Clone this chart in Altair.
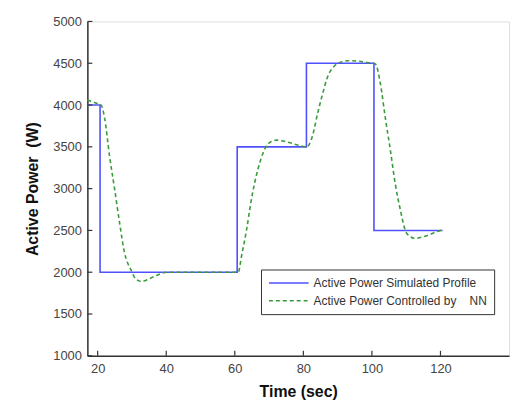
import altair as alt
import pandas as pd

S1 = "Active Power Simulated Profile"
S2 = "Active Power Controlled by\u00a0\u00a0\u00a0 NN"

blue_t = [17, 20.7, 20.7, 60.7, 60.7, 80.9, 80.9, 100.6, 100.6, 120.6]
blue_p = [4000, 4000, 2000, 2000, 3500, 3500, 4500, 4500, 2500, 2500]

green_t = [17, 19, 21, 22, 23.5, 25, 26.4, 27.8, 29.8, 31, 32.7, 34.5, 36.5, 40.4, 50, 61,
           62, 63.4, 64.8, 66.8, 68.2, 69.7, 72.1, 74, 76.4, 78.5, 81, 82.8, 84.1, 85.6, 87,
           89, 91.4, 93, 96, 98.6, 101, 102.5, 103.9, 105.4, 106.8, 108.3, 109.7, 111, 112.6,
           114.5, 116.5, 118.5, 120.6]
green_p = [4060, 4030, 4000, 3850, 3380, 2980, 2590, 2240, 2020, 1925, 1890, 1910, 1950, 2000, 2000, 2000,
           2200, 2500, 2860, 3240, 3420, 3535, 3580, 3570, 3545, 3520, 3500, 3650, 3890, 4130, 4330,
           4465, 4520, 4530, 4525, 4510, 4490, 4250, 3850, 3455, 3060, 2745, 2505, 2430, 2405,
           2420, 2445, 2480, 2510]

x_ticks = [20, 40, 60, 80, 100, 120]
y_ticks = [1000, 1500, 2000, 2500, 3000, 3500, 4000, 4500, 5000]

rows = []
for i, (t, p) in enumerate(zip(blue_t, blue_p)):
    rows.append({"t": t, "p": p, "series": S1, "i": i})
for i, (t, p) in enumerate(zip(green_t, green_p)):
    rows.append({"t": t, "p": p, "series": S2, "i": i})
df = pd.DataFrame(rows)

FONT = "Liberation Sans"
W, H = 425, 337

xscale = alt.Scale(domain=[17, 140], nice=False, zero=False)
yscale = alt.Scale(domain=[1000, 5000], nice=False, zero=False)

legend = alt.Legend(
    title=None, orient="none", legendX=175, legendY=250,
    strokeColor="#333333", fillColor="white", padding=7,
    symbolType="stroke", symbolSize=1600, symbolStrokeWidth=1.5,
    labelFont=FONT, labelFontSize=12, labelColor="#333333", labelLimit=0,
    clipHeight=13, rowPadding=5, labelOffset=4,
)

lines = alt.Chart(df).mark_line(strokeWidth=1.6, interpolate="monotone").encode(
    x=alt.X("t:Q", scale=xscale,
            axis=alt.Axis(values=x_ticks, title="Time (sec)", grid=False, ticks=False, format="d",
                          domainColor="#333333", domainWidth=1.5,
                          labelFont=FONT, labelFontSize=13, labelColor="#444444", labelPadding=7,
                          titleFont=FONT, titleFontSize=16, titleFontWeight="bold",
                          titleColor="#111111", titlePadding=8)),
    y=alt.Y("p:Q", scale=yscale,
            axis=alt.Axis(values=y_ticks, title="Active Power\u00a0 (W)", grid=False, ticks=False, format="d",
                          domainColor="#333333", domainWidth=1.5,
                          labelFont=FONT, labelFontSize=13, labelColor="#444444", labelPadding=6,
                          titleFont=FONT, titleFontSize=16, titleFontWeight="bold",
                          titleColor="#111111", titlePadding=12)),
    color=alt.Color("series:N", scale=alt.Scale(domain=[S1, S2], range=["#5050ff", "#3a9a3a"]),
                    legend=legend),
    strokeDash=alt.StrokeDash("series:N", scale=alt.Scale(domain=[S1, S2], range=[[1, 0], [4, 3]]),
                              legend=legend),
    order=alt.Order("i:Q"),
)

ytick_df = pd.DataFrame({"v": y_ticks})
xtick_df = pd.DataFrame({"v": x_ticks})

yt = alt.Chart(ytick_df).mark_rule(color="#333333", strokeWidth=1.2).encode(
    y=alt.Y("v:Q", scale=yscale), x=alt.value(0), x2=alt.value(5))
xt = alt.Chart(xtick_df).mark_rule(color="#333333", strokeWidth=1.2).encode(
    x=alt.X("v:Q", scale=xscale), y=alt.value(H), y2=alt.value(H - 5))

chart = alt.layer(lines, yt, xt).properties(
    width=W, height=H,
    autosize=alt.AutoSizeParams(type="none"),
    padding={"left": 80, "top": 12, "right": 5, "bottom": 45},
).configure_view(stroke=None).configure(background="white")

chart.save("out.html", embed_options={"renderer": "svg", "actions": False})
